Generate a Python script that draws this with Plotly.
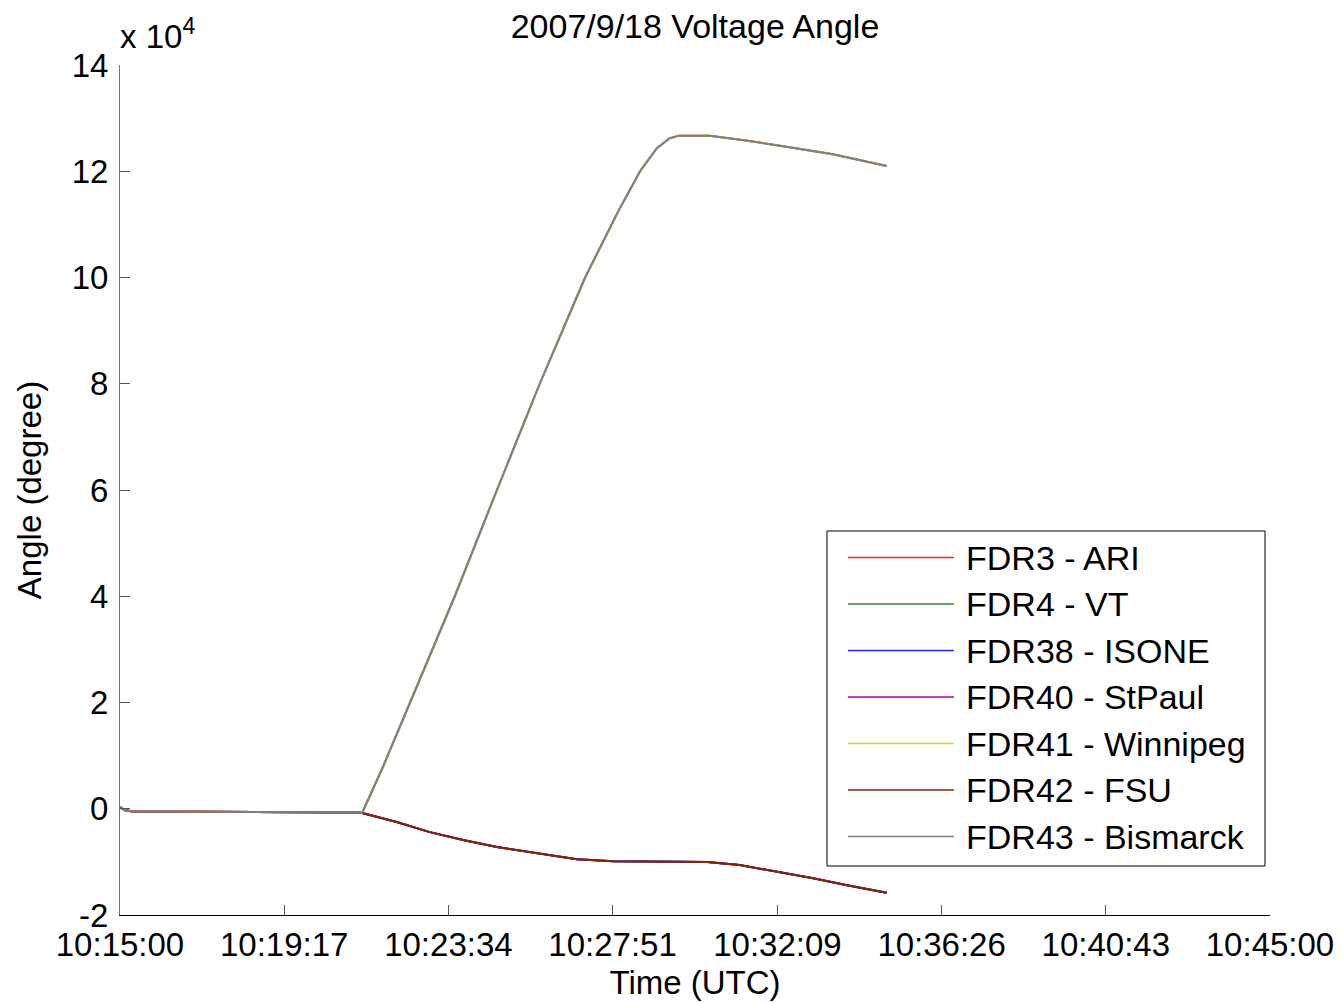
import pandas as pd
import plotly.graph_objects as go

# ---------------- data ----------------
START = "2007-09-18 10:15:00"
END = "2007-09-18 10:45:00"

# seconds after 10:15:00, common (pre-separation) section
T_COMMON = [0, 8, 20, 150, 250, 370, 379]
A_COMMON = [300, -300, -500, -550, -600, -700, -800]

# upper branch (western / northern units)
T_UP = [412, 454, 524, 590, 657, 728, 780, 814, 840, 860, 875, 923, 980, 1038, 1116, 1200]
A_UP = [8000, 20000, 40000, 60000, 80000, 100000, 112500, 120000, 124300,
        126200, 126700, 126700, 125800, 124700, 123200, 121000]

# lower branch (eastern units)
T_LOW = [433, 485, 537, 590, 642, 715, 772, 919, 970, 1033, 1085, 1138, 1200]
A_LOW = [-2500, -4400, -5900, -7200, -8100, -9500, -9900, -10000, -10600,
         -11900, -13100, -14400, -15800]

SERIES = ["FDR3 - ARI", "FDR4 - VT", "FDR38 - ISONE", "FDR40 - StPaul",
          "FDR41 - Winnipeg", "FDR42 - FSU", "FDR43 - Bismarck"]
BRANCH = ["low", "low", "low", "up", "up", "low", "up"]
COLORS = ["#ff2020", "#2e8b2e", "#2020ff", "#b000b0", "#d8d800", "#8b2500", "#808080"]

X_TICK_LABELS = ["10:15:00", "10:19:17", "10:23:34", "10:27:51",
                 "10:32:09", "10:36:26", "10:40:43", "10:45:00"]
Y_TICK_VALUES = [-20000, 0, 20000, 40000, 60000, 80000, 100000, 120000, 140000]
Y_TICK_LABELS = ["-2", "0", "2", "4", "6", "8", "10", "12", "14"]

# ---------------- figure ----------------
FONT = "Liberation Sans, Arial, sans-serif"
W, H = 1342, 1003
# plot-area edges in pixels
L, R, T, B = 120, 1270, 65, 915

t0 = pd.Timestamp(START)


def to_time(secs):
    return [t0 + pd.Timedelta(seconds=s) for s in secs]


fig = go.Figure()
for name, br, col in zip(SERIES, BRANCH, COLORS):
    if br == "up":
        ts, vs = T_COMMON + T_UP, A_COMMON + A_UP
    else:
        ts, vs = T_COMMON + T_LOW, A_COMMON + A_LOW
    fig.add_trace(go.Scatter(x=to_time(ts), y=vs, mode="lines", name=name,
                             line=dict(color=col, width=2), showlegend=False))

tickvals = [pd.Timestamp("2007-09-18 " + s) for s in X_TICK_LABELS]

fig.update_layout(
    width=W, height=H,
    margin=dict(l=L, r=W - R, t=T, b=H - B, autoexpand=False),
    paper_bgcolor="white", plot_bgcolor="white",
    font=dict(family=FONT, size=33, color="black"),
    title=dict(text="2007/9/18 Voltage Angle", x=(L + R) / 2 / W, xanchor="center",
               y=1 - 26 / H, yanchor="middle", font=dict(size=34)),
    xaxis=dict(range=[pd.Timestamp(START), pd.Timestamp(END)], tickvals=tickvals,
               ticktext=X_TICK_LABELS, ticks="inside", ticklen=10, tickcolor="#555",
               showline=True, linecolor="black", linewidth=1, showgrid=False,
               zeroline=False, tickfont=dict(size=33), automargin=False,
               ticklabeloverflow="allow",
               title=dict(text="Time (UTC)", font=dict(size=33), standoff=9)),
    yaxis=dict(range=[-20000, 140000], tickvals=Y_TICK_VALUES, ticktext=Y_TICK_LABELS,
               ticks="inside", ticklen=10, tickcolor="#555",
               showline=True, linecolor="#777", linewidth=1, showgrid=False,
               zeroline=False, tickfont=dict(size=33), ticklabelstandoff=4,
               automargin=False,
               title=dict(text="Angle (degree)", font=dict(size=33), standoff=20)),
)


def px_x(p):
    return (p - L) / (R - L)


def px_y(p):
    return (B - p) / (B - T)


# exponent label
fig.add_annotation(xref="paper", yref="paper", x=px_x(118), y=px_y(34),
                   xanchor="left", yanchor="middle", showarrow=False,
                   text="x 10<sup>4</sup>", font=dict(size=33))

# custom legend (MATLAB style)
LEG_L, LEG_T, LEG_R, LEG_B = 827, 531, 1265, 866
fig.add_shape(type="rect", xref="paper", yref="paper",
              x0=px_x(LEG_L), x1=px_x(LEG_R), y0=px_y(LEG_B), y1=px_y(LEG_T),
              line=dict(color="black", width=1), fillcolor="white", layer="above")
row0, row_gap = 557.5, 46.5
for i, (name, col) in enumerate(zip(SERIES, COLORS)):
    yy = row0 + i * row_gap
    fig.add_shape(type="line", xref="paper", yref="paper",
                  x0=px_x(848), x1=px_x(954), y0=px_y(yy), y1=px_y(yy),
                  line=dict(color=col, width=1.5), layer="above")
    fig.add_annotation(xref="paper", yref="paper", x=px_x(964), y=px_y(yy),
                       xanchor="left", yanchor="middle", showarrow=False,
                       text=name, font=dict(size=34))

fig.write_html("out.html",
               config={"displayModeBar": False},
               post_script="document.body.style.margin='0';"
                           "document.body.style.overflow='hidden';")
